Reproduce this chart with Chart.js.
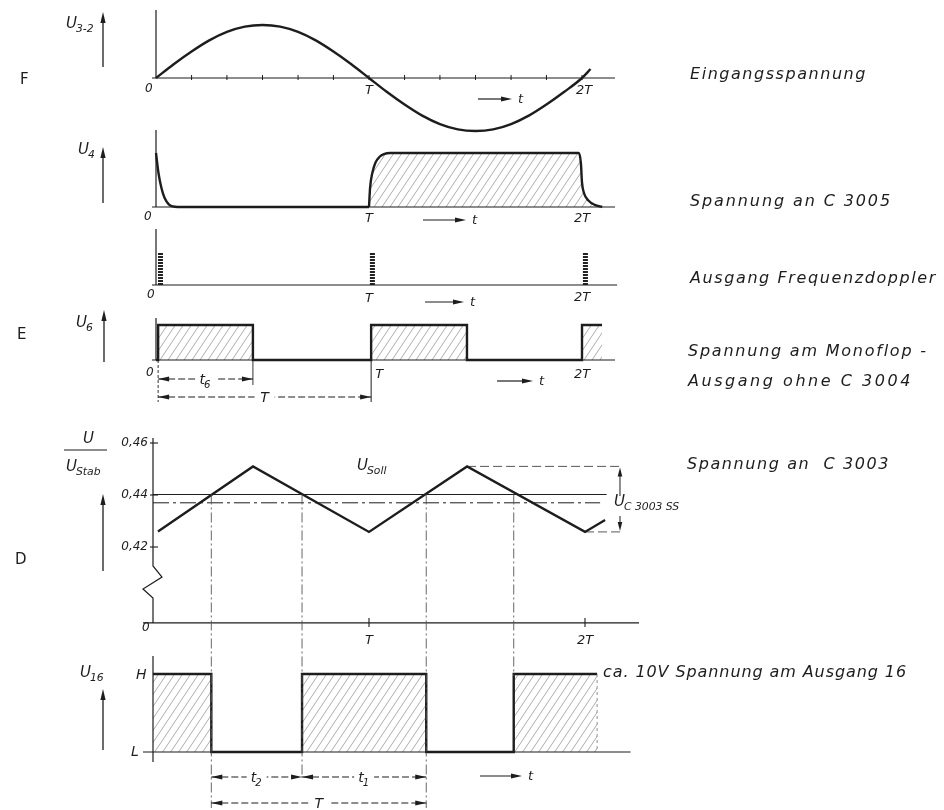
<!DOCTYPE html>
<html>
<head>
<meta charset="utf-8">
<script src="https://cdn.jsdelivr.net/npm/chart.js@4.4.1/dist/chart.umd.min.js"></script>
<style>
  html, body { margin: 0; padding: 0; background: #fff; }
  canvas { display: block; }
</style>
</head>
<body>
<canvas id="c" width="944" height="810"></canvas>
<script>
// ── Data (time in units of T) ─────────────────────────────────────
// F: input voltage U3-2
const sineT = [0, 0.083, 0.167, 0.25, 0.333, 0.417, 0.5, 0.583, 0.667, 0.75, 0.833, 0.917, 1,
               1.083, 1.167, 1.25, 1.333, 1.417, 1.5, 1.583, 1.667, 1.75, 1.833, 1.917, 2, 2.04];
const sineV = [0, 0.26, 0.5, 0.71, 0.87, 0.97, 1, 0.97, 0.87, 0.71, 0.5, 0.26, 0,
               -0.26, -0.5, -0.71, -0.87, -0.97, -1, -0.97, -0.87, -0.71, -0.5, -0.26, 0, 0.17];

// U4: voltage at C 3005
const u4DecayT = [0, 0.012, 0.025, 0.04, 0.06, 0.08, 0.1, 1.0];
const u4DecayV = [1.0, 0.62, 0.36, 0.17, 0.05, 0.01, 0, 0];
const u4PulseT = [1.0, 1.005, 1.015, 1.03, 1.05, 1.07, 1.1, 1.985, 1.995, 2.0, 2.01, 2.03, 2.06, 2.095];
const u4PulseV = [0, 0.35, 0.62, 0.82, 0.93, 0.98, 1, 1, 0.8, 0.45, 0.25, 0.12, 0.04, 0];

// frequency doubler output spikes
const spikeT = [0.021, 1.016, 2.016];
const spikeH = 1;

// U6: monoflop output without C 3004
const u6T = [0, 0.01, 0.01, 0.455, 0.455, 1.01, 1.01, 1.46, 1.46, 2.0, 2.0, 2.094];
const u6V = [0, 0, 1, 1, 0, 0, 1, 1, 0, 0, 1, 1];

// D: U/UStab on C 3003
const triT = [0.023, 0.463, 1.0, 1.454, 2.0, 2.093];
const triV = [0.426, 0.451, 0.4258, 0.451, 0.4258, 0.4304];
const uSoll = 0.4402;
const uMid = 0.437;
const dTicks = [0.42, 0.44, 0.46];
const dTickLabels = ['0,42', '0,44', '0,46'];
const dZero = 0.3908;             // broken axis: bottom is labelled 0
const crossT = [0.27, 0.69, 1.265, 1.67];

// U16: output 16
const u16T = [0, 0.27, 0.27, 0.69, 0.69, 1.265, 1.265, 1.67, 1.67, 2.056];
const u16V = [1, 1, 0, 0, 1, 1, 0, 0, 1, 1];

const minorTicks = [0.167, 0.333, 0.5, 0.667, 0.833, 1, 1.167, 1.333, 1.5, 1.667, 1.833, 2];

// ── Helpers ──────────────────────────────────────────────────────
const INK = '#1d1d1d';
const pts = (xs, ys) => xs.map((x, i) => ({ x, y: ys[i] }));

function hScale(v0, p0, v1, p1, W = 944) {
  const k = (p1 - p0) / (v1 - v0), min = v0 - p0 / k;
  return { type: 'linear', display: false, min, max: min + W / k };
}
function vScale(v0, p0, v1, p1, H = 810) {
  const k = (p0 - p1) / (v1 - v0), max = v0 + p0 / k;
  return { type: 'linear', display: false, min: max - H / k, max };
}

const ctx0 = document.getElementById('c').getContext('2d');
function hatch() {
  const t = document.createElement('canvas');
  t.width = 8; t.height = 12;
  const g = t.getContext('2d');
  g.strokeStyle = '#a2a2a2';
  g.lineWidth = 0.9;
  for (const o of [-8, 0, 8]) {
    g.beginPath(); g.moveTo(o, 12); g.lineTo(o + 8, 0); g.stroke();
  }
  return ctx0.createPattern(t, 'repeat');
}
const HATCH = hatch();

function seg(c, x1, y1, x2, y2, w = 1.2, dash = [], col = INK) {
  c.save();
  c.strokeStyle = col; c.lineWidth = w; c.setLineDash(dash);
  c.beginPath(); c.moveTo(x1, y1); c.lineTo(x2, y2); c.stroke();
  c.restore();
}
function head(c, x, y, dx, dy, len = 10, hw = 2.4) {
  const n = Math.hypot(dx, dy); dx /= n; dy /= n;
  c.beginPath();
  c.moveTo(x, y);
  c.lineTo(x - dx * len - dy * hw, y - dy * len + dx * hw);
  c.lineTo(x - dx * len + dy * hw, y - dy * len - dx * hw);
  c.closePath(); c.fill();
}
function txt(c, s, x, y, size, opts = {}) {
  c.save();
  c.font = `${opts.upright ? '' : 'italic '}${size}px "DejaVu Sans", sans-serif`;
  c.fillStyle = INK;
  c.textAlign = opts.align || 'left';
  c.textBaseline = 'middle';
  if (opts.width) {
    c.letterSpacing = '0px';
    const w = c.measureText(s).width;
    c.letterSpacing = Math.max(0, (opts.width - w) / s.length).toFixed(2) + 'px';
  }
  c.fillText(s, x, y);
  c.restore();
}
function sym(c, main, sub, x, y, size = 13) {
  txt(c, main, x, y, size);
  c.save();
  c.font = `italic ${size}px "DejaVu Sans", sans-serif`;
  const w = c.measureText(main).width;
  c.restore();
  txt(c, sub, x + w - 1, y + size * 0.35, size * 0.72);
}
function upArrow(c, x, yTop, yBot) {
  seg(c, x, yBot, x, yTop + 8, 1.3);
  head(c, x, yTop, 0, -1, 11, 2.6);
}
function tArrow(c, x1, x2, y) {
  seg(c, x1, y, x2 - 6, y, 1.2);
  head(c, x2, y, 1, 0, 11, 2.4);
  txt(c, 't', x2 + 6, y + 1, 13);
}
function dim(c, x1, x2, y, main, sub) {
  seg(c, x1, y, x2, y, 1, [7, 3]);
  head(c, x1, y, -1, 0, 11, 2.4);
  head(c, x2, y, 1, 0, 11, 2.4);
  const m = (x1 + x2) / 2;
  c.save(); c.fillStyle = '#fff'; c.fillRect(m - 10, y - 8, 20, 16); c.restore();
  if (sub) sym(c, main, sub, m - 6, y + 1, 14); else txt(c, main, m, y + 1, 14, { align: 'center' });
}

// ── Annotation plugin: axes, labels, dimensions ─────────────────
const annot = {
  id: 'annot',
  afterDatasetsDraw(chart) {
    const c = chart.ctx, s = chart.scales;
    const X = v => s.x.getPixelForValue(v), X2 = v => s.x2.getPixelForValue(v);
    const Y = (id, v) => s[id].getPixelForValue(v);
    c.save();
    c.fillStyle = INK;

    // F ─ input voltage
    let b = Y('yF', 0);
    seg(c, X(0), 10, X(0), b, 1.2);
    seg(c, X(0) - 4, b, X(2.155), b, 1.1);
    minorTicks.forEach(t => seg(c, X(t), b - 3, X(t), b + 2, 1));
    txt(c, '0', X(0) - 11, b + 11, 12);
    txt(c, 'T', X(1), b + 13, 13, { align: 'center' });
    txt(c, '2T', X(2) + 2, b + 13, 13, { align: 'center' });
    tArrow(c, 478, 512, 99);
    sym(c, 'U', '3-2', 66, 24, 15);
    upArrow(c, 103, 12, 67);
    txt(c, 'F', 20, 80, 15, { upright: true });
    txt(c, 'Eingangsspannung', 690, 75, 16, { width: 177 });

    // U4 ─ voltage at C 3005
    b = Y('yU4', 0);
    seg(c, X(0), 130, X(0), b, 1.2);
    seg(c, X(0) - 4, b, X(2.155), b, 1.1);
    txt(c, '0', X(0) - 12, b + 10, 12);
    txt(c, 'T', X(1), b + 12, 13, { align: 'center' });
    txt(c, '2T', X(2), b + 12, 13, { align: 'center' });
    tArrow(c, 423, 466, 220);
    sym(c, 'U', '4', 78, 150, 15);
    upArrow(c, 103, 147, 203);
    txt(c, 'Spannung an C 3005', 690, 202, 16, { width: 202 });

    // frequency doubler
    b = Y('yFD', 0);
    seg(c, X(0), 229, X(0), b, 1.2);
    seg(c, X(0) - 4, b, X(2.165), b, 1.1);
    txt(c, '0', X(0) - 9, b + 10, 12);
    txt(c, 'T', X(1), b + 14, 13, { align: 'center' });
    txt(c, '2T', X(2), b + 13, 13, { align: 'center' });
    tArrow(c, 425, 464, 302);
    txt(c, 'Ausgang Frequenzdoppler', 690, 279, 16, { width: 247 });

    // U6 ─ monoflop output
    b = Y('yU6', 0);
    seg(c, X(0), 318, X(0), b, 1.2);
    seg(c, X(0) - 4, b, X(2.155), b, 1.1);
    seg(c, X(1.01), b - 2, X(1.01), 402, 1);
    seg(c, X(0.455), b, X(0.455), 385, 0.9);
    seg(c, X(0.01), b, X(0.01), 402, 0.9, [3, 2]);
    txt(c, '0', X(0) - 10, b + 13, 12);
    txt(c, 'T', X(1.01) + 4, b + 15, 13);
    txt(c, '2T', X(2), b + 15, 13, { align: 'center' });
    tArrow(c, 497, 533, 381);
    dim(c, X(0.01), X(0.455), 379, 't', '6');
    dim(c, X(0.01), X(1.01), 397, 'T');
    sym(c, 'U', '6', 76, 323, 15);
    upArrow(c, 104, 310, 362);
    txt(c, 'E', 17, 335, 15, { upright: true });
    txt(c, 'Spannung am Monoflop -', 688, 352, 16, { width: 240 });
    txt(c, 'Ausgang ohne C 3004', 688, 382, 16, { width: 225 });

    // D ─ U/UStab at C 3003
    const ax = X2(0), bz = Y('yD', dZero);
    c.save(); c.strokeStyle = INK; c.lineWidth = 1.2; c.beginPath();
    c.moveTo(ax, 438); c.lineTo(ax, 566); c.lineTo(ax + 9, 577); c.lineTo(ax - 10, 589);
    c.lineTo(ax, 598); c.lineTo(ax, bz); c.stroke(); c.restore();
    dTicks.forEach((v, i) => {
      const y = Y('yD', v);
      seg(c, ax - 3, y, ax + 5, y, 1.1);
      txt(c, dTickLabels[i], ax - 5, y, 12, { align: 'right' });
    });
    seg(c, ax - 10, bz, X2(2.25), bz, 1.1);
    [1, 2].forEach(t => seg(c, X2(t), bz - 5, X2(t), bz + 4, 1.1));
    txt(c, '0', ax - 11, bz + 5, 12);
    txt(c, 'T', X2(1), bz + 18, 13, { align: 'center' });
    txt(c, '2T', X2(2), bz + 18, 13, { align: 'center' });
    sym(c, 'U', 'Soll', 357, 466, 15);
    // ripple dimension
    const dx = X2(2.162), yp = Y('yD', triV[1]), yt = Y('yD', triV[2]);
    seg(c, dx, yp + 8, dx, yt - 8, 1);
    head(c, dx, yp + 1, 0, -1, 9, 2.3);
    head(c, dx, yt - 1, 0, 1, 9, 2.3);
    c.save(); c.fillStyle = '#fff'; c.fillRect(dx - 4, 496, 10, 20); c.restore();
    sym(c, 'U', 'C 3003 SS', 614, 502, 15);
    // crossing verticals
    const vBottom = [808, 777, 808, 676];
    crossT.forEach((t, i) => seg(c, X2(t), Y('yD', uSoll), X2(t), vBottom[i], 0.9, [10, 3, 2, 3], '#555'));
    // fraction label
    txt(c, 'U', 83, 439, 15);
    seg(c, 64, 450, 107, 450, 1.2);
    sym(c, 'U', 'Stab', 66, 467, 15);
    upArrow(c, 103, 494, 571);
    txt(c, 'D', 15, 560, 15, { upright: true });
    txt(c, 'Spannung an  C 3003', 687, 465, 16, { width: 203 });

    // U16 ─ output 16
    const yH = Y('yU16', 1), yL = Y('yU16', 0);
    seg(c, ax, 656, ax, yL + 10, 1.2);
    seg(c, ax - 10, yL, X2(2.211), yL, 1.1);
    seg(c, X2(2.056), yH, X2(2.056), yL, 0.8, [3, 3], '#777');
    txt(c, 'H', 136, yH + 1, 14);
    txt(c, 'L', 131, yL, 14);
    sym(c, 'U', '16', 80, 673, 15);
    upArrow(c, 103, 689, 750);
    dim(c, X2(crossT[0]), X2(crossT[1]), 777, 't', '2');
    dim(c, X2(crossT[1]), X2(crossT[2]), 777, 't', '1');
    dim(c, X2(crossT[0]), X2(crossT[2]), 803, 'T');
    tArrow(c, 480, 522, 776);
    txt(c, 'ca. 10V Spannung am Ausgang 16', 603, 673, 16, { width: 304 });

    c.restore();
  }
};

// ── Datasets ─────────────────────────────────────────────────────
const base = { pointRadius: 0, borderColor: INK, borderWidth: 2.4, fill: false, tension: 0 };
const datasets = [
  { ...base, data: pts(sineT, sineV), xAxisID: 'x', yAxisID: 'yF', cubicInterpolationMode: 'monotone' },
  { ...base, data: pts(u4DecayT, u4DecayV), xAxisID: 'x', yAxisID: 'yU4', cubicInterpolationMode: 'monotone' },
  { ...base, data: pts(u4PulseT, u4PulseV), xAxisID: 'x', yAxisID: 'yU4', cubicInterpolationMode: 'monotone',
    fill: 'origin', backgroundColor: HATCH },
  ...spikeT.map(t => ({ ...base, data: [{ x: t, y: 0 }, { x: t, y: spikeH }], xAxisID: 'x', yAxisID: 'yFD',
    borderWidth: 5, borderDash: [2, 1], borderColor: '#222' })),
  { ...base, data: pts(u6T, u6V), xAxisID: 'x', yAxisID: 'yU6', fill: 'origin', backgroundColor: HATCH },
  { ...base, data: pts(triT, triV), xAxisID: 'x2', yAxisID: 'yD' },
  { ...base, data: [{ x: 0, y: uSoll }, { x: 2.1, y: uSoll }], xAxisID: 'x2', yAxisID: 'yD', borderWidth: 1.2 },
  { ...base, data: [{ x: 0, y: uMid }, { x: 2.07, y: uMid }], xAxisID: 'x2', yAxisID: 'yD', borderWidth: 1,
    borderDash: [16, 4, 3, 4] },
  { ...base, data: [{ x: triT[3], y: triV[3] }, { x: 2.176, y: triV[3] }], xAxisID: 'x2', yAxisID: 'yD',
    borderWidth: 0.9, borderDash: [9, 4], borderColor: '#444' },
  { ...base, data: [{ x: triT[4], y: triV[4] }, { x: 2.176, y: triV[4] }], xAxisID: 'x2', yAxisID: 'yD',
    borderWidth: 0.9, borderDash: [9, 4], borderColor: '#444' },
  { ...base, data: pts(u16T, u16V), xAxisID: 'x2', yAxisID: 'yU16', fill: 'origin', backgroundColor: HATCH }
];

new Chart(document.getElementById('c'), {
  type: 'line',
  data: { datasets },
  options: {
    responsive: false,
    animation: false,
    layout: { padding: 0 },
    plugins: { legend: { display: false }, tooltip: { enabled: false }, title: { display: false } },
    scales: {
      x:    hScale(0, 156, 1, 369),
      x2:   hScale(0, 153, 1, 369),
      yF:   vScale(0, 78, 1, 25),
      yU4:  vScale(0, 207, 1, 153),
      yFD:  vScale(0, 285, 1, 252),
      yU6:  vScale(0, 360, 1, 325),
      yD:   vScale(0.42, 547, 0.46, 443),
      yU16: vScale(0, 752, 1, 674)
    }
  },
  plugins: [annot]
});
</script>
</body>
</html>
